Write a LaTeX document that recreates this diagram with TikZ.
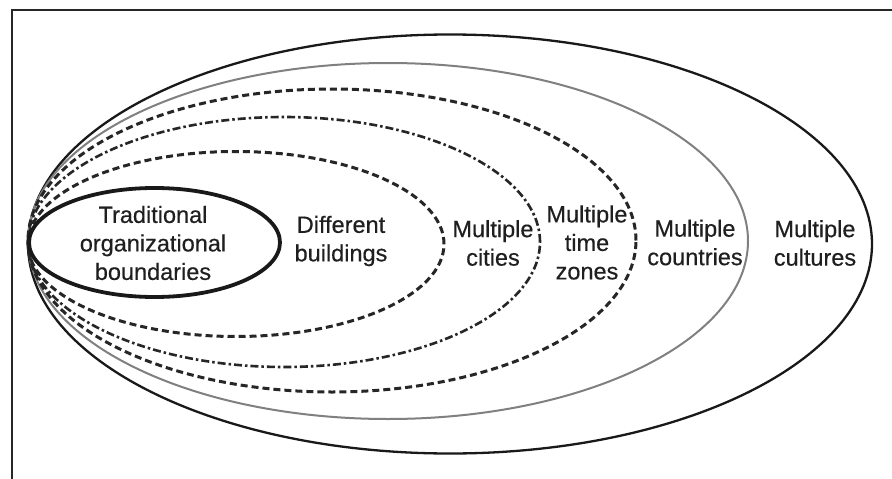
\documentclass[tikz,border=0pt]{standalone}
\usepackage{fontspec}
\setmainfont{Liberation Sans}
\newfontfamily\labelfont{Liberation Sans}[FakeBold=0.4]
\begin{document}
\begin{tikzpicture}[x=1pt,y=-1pt,
  frameline/.style={line width=2.2pt, draw=black!85},
  solidring/.style={line width=2.3pt, draw=black!90},
  grayring/.style={line width=2pt, draw=black!50},
  dashring/.style={line width=3pt, draw=black!85, dash pattern=on 7pt off 4pt},
  dashdotring/.style={line width=2.6pt, draw=black!85, dash pattern=on 8pt off 3pt on 2.5pt off 3pt},
  corering/.style={line width=3.8pt, draw=black!90},
  lbl/.style={font=\labelfont\fontsize{23.5}{28.5}\selectfont, align=center, inner sep=0pt, text=black!88}
]
\useasboundingbox (0,0) rectangle (892,479);
\fill[white] (0,0) rectangle (892,479);

% open frame: top and left border only
\coordinate (frameTR) at (892,10);
\coordinate (frameTL) at (12,10);
\coordinate (frameBL) at (12,479);
\draw[frameline] (frameTR) -- (frameTL) -- (frameBL);

% nested scopes, outermost first
\draw[solidring]   (450,244)   ellipse [x radius=422pt,   y radius=209.5pt];
\draw[grayring]    (388,241)   ellipse [x radius=360pt,   y radius=178pt];
\draw[dashring]    (332,240.5) ellipse [x radius=304pt,   y radius=151.5pt];
\draw[dashdotring] (284,242)   ellipse [x radius=256pt,   y radius=125pt];
\draw[dashring]    (236,244)   ellipse [x radius=208pt,   y radius=92.5pt];
\draw[corering]    (154.5,242.5) ellipse [x radius=125.5pt, y radius=54.5pt];

% labels
\node[lbl] (trad)      at (153,243)   {Traditional\\organizational\\boundaries};
\node[lbl] (buildings) at (341,241)   {Different\\buildings};
\node[lbl] (cities)    at (493,243)   {Multiple\\cities};
\node[lbl] (zones)     at (587,242.5) {Multiple\\time\\zones};
\node[lbl] (countries) at (695,242.5) {Multiple\\countries};
\node[lbl] (cultures)  at (815,243)   {Multiple\\cultures};
\end{tikzpicture}
\end{document}
